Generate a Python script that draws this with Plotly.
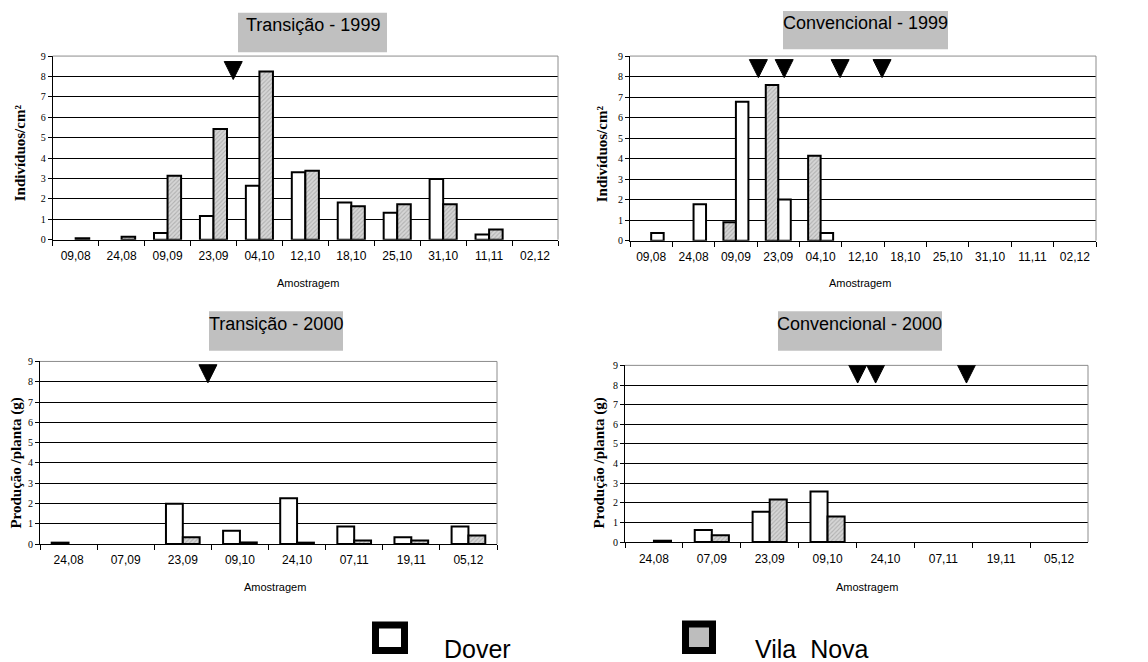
import plotly.graph_objects as go

# ---------------- data ----------------
datas_1999 = ["09,08", "24,08", "09,09", "23,09", "04,10", "12,10", "18,10", "25,10", "31,10", "11,11", "02,12"]
datas_2000 = ["24,08", "07,09", "23,09", "09,10", "24,10", "07,11", "19,11", "05,12"]

transicao_1999_dover = [0, 0, 0.33, 1.16, 2.64, 3.30, 1.82, 1.32, 2.97, 0.26, 0]
transicao_1999_vila = [0.07, 0.15, 3.13, 5.43, 8.25, 3.38, 1.64, 1.74, 1.74, 0.50, 0]

convencional_1999_dover = [0.38, 1.78, 6.77, 2.01, 0.38, 0, 0, 0, 0, 0, 0]
convencional_1999_vila = [0, 0, 0.90, 7.59, 4.14, 0, 0, 0, 0, 0, 0]

transicao_2000_dover = [0.07, 0, 1.99, 0.66, 2.26, 0.86, 0.34, 0.86]
transicao_2000_vila = [0, 0, 0.33, 0.08, 0.07, 0.18, 0.18, 0.42]

convencional_2000_dover = [0, 0.62, 1.55, 2.58, 0, 0, 0, 0]
convencional_2000_vila = [0.07, 0.35, 2.17, 1.30, 0, 0, 0, 0]

# application markers (position in category index units, tip value)
aplic_transicao_1999 = [3.43]
aplic_convencional_1999 = [2.53, 3.14, 4.46, 5.45]
aplic_transicao_2000 = [2.44]
aplic_convencional_2000 = [3.52, 3.83, 5.40]
aplic_ponta = [7.85, 7.95, 7.95, 8.1]

titulos = ["Transição - 1999", "Convencional - 1999", "Transição - 2000", "Convencional - 2000"]
ytitulos = ["Indivíduos/cm²", "Indivíduos/cm²", "Produção /planta (g)", "Produção /planta (g)"]
xtitulo = "Amostragem"
series = ["Dover", "Vila Nova"]

# ---------------- layout helpers ----------------
W, H = 1148, 662


def px(x):
    return x / W


def py(y):
    return 1 - y / H


SANS = "Liberation Sans, Arial, sans-serif"
SERIF = "Liberation Serif, Times New Roman, serif"

panels = [
    dict(cats=datas_1999, first=(transicao_1999_dover, "Dover"), second=(transicao_1999_vila, "Vila"),
         ap=aplic_transicao_1999, dom_x=(52.7, 558), dom_y=(51, 238),
         box=(238, 7, 387, 47), tpos=(312.5, 19), ytpos=(20, 150), xtpos=(308, 282)),
    dict(cats=datas_1999, first=(convencional_1999_vila, "Vila"), second=(convencional_1999_dover, "Dover"),
         ap=aplic_convencional_1999, dom_x=(630, 1096), dom_y=(51, 239),
         box=(783, 5, 948, 44), tpos=(865, 17), ytpos=(602, 151), xtpos=(860, 282)),
    dict(cats=datas_2000, first=(transicao_2000_dover, "Dover"), second=(transicao_2000_vila, "Vila"),
         ap=aplic_transicao_2000, dom_x=(40, 497), dom_y=(362, 548),
         box=(209, 311, 343, 351), tpos=(276, 324), ytpos=(17, 466), xtpos=(275, 592)),
    dict(cats=datas_2000, first=(convencional_2000_dover, "Dover"), second=(convencional_2000_vila, "Vila"),
         ap=aplic_convencional_2000, dom_x=(625, 1088), dom_y=(366, 546),
         box=(778, 311, 942, 351), tpos=(859, 324), ytpos=(600, 466), xtpos=(867, 592)),
]


def dover_marker(vals):
    return dict(color="white", line=dict(color="black", width=[2 if v > 0 else 0 for v in vals]))


def vila_marker(vals):
    return dict(color="#d2d2d2", line=dict(color="black", width=[2 if v > 0 else 0 for v in vals]),
                pattern=dict(shape="/", fgcolor="#8a8a8a", bgcolor="#d6d6d6", size=3, solidity=0.35))


fig = go.Figure()
layout = dict(width=W, height=H, margin=dict(l=0, r=0, t=0, b=0),
              paper_bgcolor="white", plot_bgcolor="white", showlegend=False,
              barmode="group", bargap=0.41, bargroupgap=0)
shapes = []
annotations = []

for i, p in enumerate(panels):
    k = "" if i == 0 else str(i + 1)
    xa, ya = "x" + k, "y" + k
    for vals, who in (p["first"], p["second"]):
        fig.add_trace(go.Bar(x=p["cats"], y=vals, name="Dover" if who == "Dover" else "Vila Nova",
                             marker=dover_marker(vals) if who == "Dover" else vila_marker(vals),
                             xaxis=xa, yaxis=ya, hoverinfo="x+y+name"))
    n = len(p["cats"])
    layout["xaxis" + k] = dict(domain=[px(p["dom_x"][0]), px(p["dom_x"][1])], anchor=ya,
                               type="category", range=[-0.5, n - 0.5], tickson="boundaries",
                               ticks="outside", ticklen=5, tickwidth=1, tickcolor="black",
                               ticklabelstandoff=5,
                               showline=True, linecolor="black", linewidth=1, showgrid=False,
                               tickfont=dict(family=SANS, size=12, color="black"), fixedrange=True)
    layout["yaxis" + k] = dict(domain=[py(p["dom_y"][1]), py(p["dom_y"][0])], anchor=xa,
                               range=[0, 9], tick0=0, dtick=1, ticks="outside", ticklen=4,
                               tickcolor="black", showline=True, linecolor="black", linewidth=1,
                               showgrid=True, gridcolor="black", gridwidth=1, zeroline=False,
                               tickfont=dict(family=SERIF, size=10, color="black"), fixedrange=True)
    # gray top & right border
    shapes.append(dict(type="line", xref=xa + " domain", yref=ya + " domain", x0=0, x1=1, y0=1, y1=1,
                       line=dict(color="#8c8c8c", width=1), layer="above"))
    shapes.append(dict(type="line", xref=xa + " domain", yref=ya + " domain", x0=1, x1=1, y0=0, y1=1,
                       line=dict(color="#8c8c8c", width=1), layer="above"))
    # application triangles
    for xpos in p["ap"]:
        shapes.append(dict(type="path", xref=xa, yref=ya, xsizemode="pixel", ysizemode="pixel",
                           xanchor=xpos, yanchor=aplic_ponta[i], path="M-9,18 L9,18 L0,0 Z",
                           fillcolor="black", line=dict(color="black", width=1), layer="above"))
    # title box
    bx0, by0, bx1, by1 = p["box"]
    shapes.append(dict(type="rect", xref="paper", yref="paper", x0=px(bx0), x1=px(bx1),
                       y0=py(by1), y1=py(by0), fillcolor="#c0c0c0", line=dict(width=0), layer="below"))
    annotations.append(dict(text=titulos[i], xref="paper", yref="paper", x=px(p["tpos"][0]),
                            y=py(p["tpos"][1]), xanchor="center", yanchor="middle", showarrow=False,
                            font=dict(family=SANS, size=18, color="black")))
    annotations.append(dict(text=ytitulos[i], xref="paper", yref="paper",
                            x=px(p["ytpos"][0]), y=py(p["ytpos"][1]), xanchor="center",
                            yanchor="middle", showarrow=False, textangle=-90,
                            font=dict(family=SERIF, size=15, color="black", weight="bold")))
    annotations.append(dict(text=xtitulo, xref="paper", yref="paper", x=px(p["xtpos"][0]),
                            y=py(p["xtpos"][1]), xanchor="center", yanchor="middle", showarrow=False,
                            font=dict(family=SANS, size=11, color="black")))

# manual legend
leg = [(series[0], (375.5, 630.5, 404.5, 656.5), "white", 442),
       (series[1], (685.5, 629.5, 712.5, 656.5), "#bdbdbd", 753)]
for name, (x0, y0, x1, y1), fill, tx in leg:
    shapes.append(dict(type="rect", xref="paper", yref="paper", x0=px(x0), x1=px(x1),
                       y0=py(y1), y1=py(y0), fillcolor=fill, line=dict(color="black", width=7)))
    annotations.append(dict(text=name.replace(" ", "\u00a0 "), xref="paper", yref="paper", x=px(tx),
                            y=py(655), xanchor="left", yanchor="middle", showarrow=False,
                            font=dict(family=SANS, size=25, color="black")))

layout["shapes"] = shapes
layout["annotations"] = annotations
fig.update_layout(**layout)
fig.write_html("out.html")
